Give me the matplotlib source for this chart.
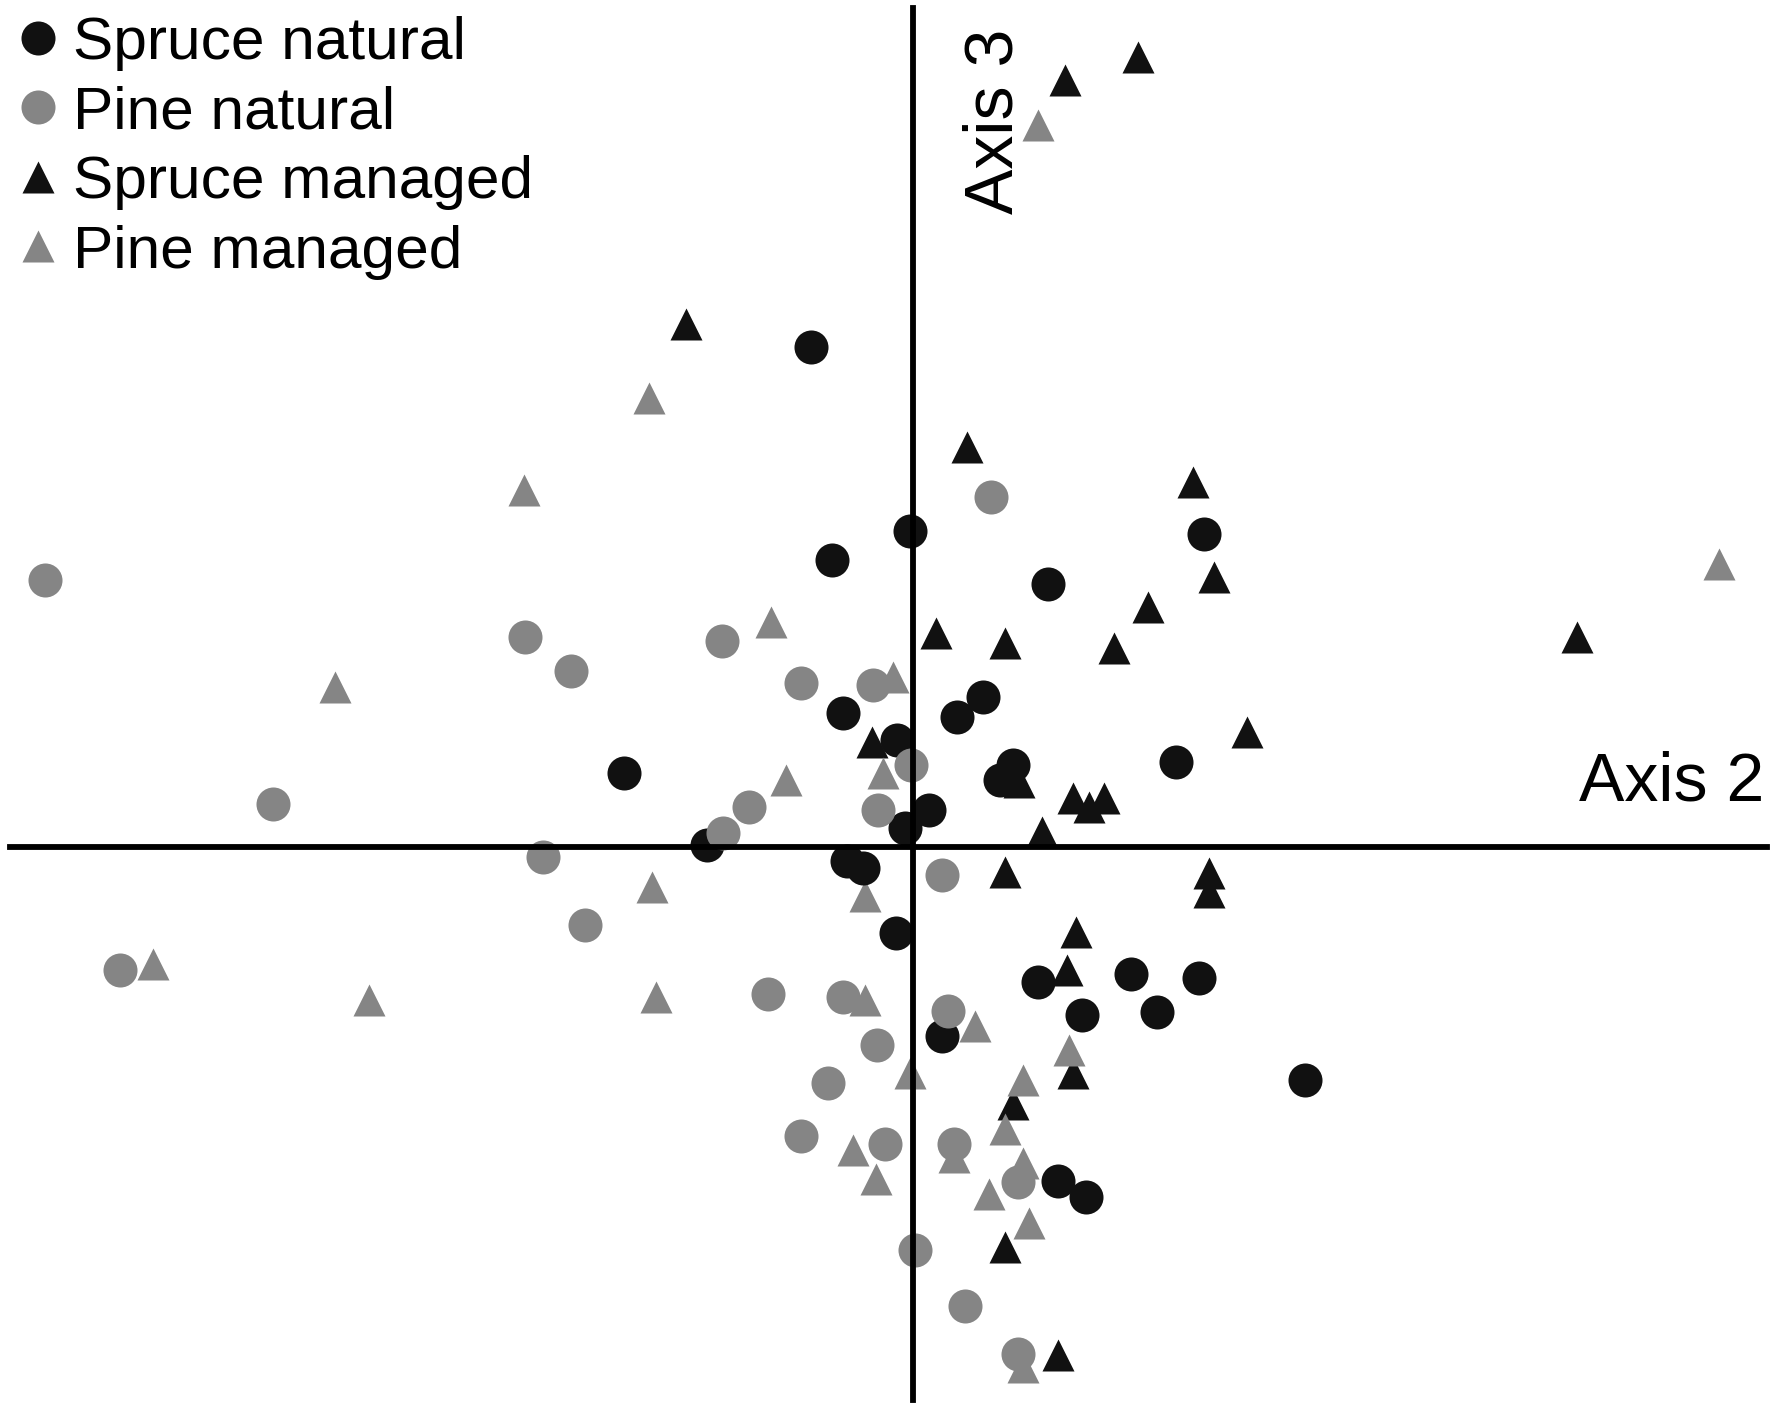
"""
Ordination plot (axis 2 vs axis 3) of natural and managed spruce / pine stands.
"""

import matplotlib
matplotlib.use("Agg")
import matplotlib.pyplot as plt

plt.rcParams["font.family"] = ["Liberation Sans", "DejaVu Sans"]

# ── Site scores (axis 2, axis 3) ─────────────────────────────────────────────
spruce_nat_x = [-0.89, -0.02, -0.71, 2.56, 1.19, -0.61, 0.39, 0.62, -0.14, -2.54,
                0.88, 0.77, 2.32, 0.14, -0.07, -1.81, -0.58, -0.44, -0.15, 1.10,
                1.92, 2.52, 1.49, 2.15, 0.26, 3.45, 1.28, 1.53]
spruce_nat_y = [4.40, 2.78, 2.52, 2.75, 2.31, 1.18, 1.14, 1.32, 0.94, 0.65,
                0.72, 0.59, 0.75, 0.32, 0.17, 0.02, -0.12, -0.19, -0.76, -1.19,
                -1.12, -1.15, -1.48, -1.45, -1.66, -2.05, -2.94, -3.08]

pine_nat_x = [-7.63, -3.41, -3.01, -1.68, -0.98, -0.35, 0.69, -5.63, -0.01, -1.44,
              -0.30, -1.67, -3.25, -2.88, -6.97, 0.26, -1.27, -0.61, 0.31, -0.31,
              -0.74, -0.98, -0.24, 0.36, 0.93, 0.02, 0.46, 0.93]
pine_nat_y = [2.35, 1.85, 1.55, 1.81, 1.44, 1.42, 3.08, 0.38, 0.72, 0.35,
              0.32, 0.12, -0.09, -0.69, -1.08, -0.25, -1.29, -1.32, -1.44, -1.74,
              -2.08, -2.54, -2.61, -2.61, -2.95, -3.55, -4.04, -4.46]

spruce_man_x = [1.34, 1.98, -1.99, 0.48, 2.47, 2.65, 2.07, 1.77, 0.81, 0.21,
                5.85, 2.94, -0.36, 0.94, 1.41, 1.55, 1.68, 1.14, 0.81, 2.61,
                2.61, 1.44, 1.36, 1.41, 0.88, 0.81, 1.28]
spruce_man_y = [6.75, 6.95, 4.60, 3.52, 3.21, 2.37, 2.11, 1.75, 1.79, 1.88,
                1.85, 1.01, 0.92, 0.57, 0.43, 0.35, 0.43, 0.13, -0.22, -0.23,
                -0.40, -0.75, -1.08, -1.99, -2.26, -3.52, -4.47]

pine_man_x = [1.10, -2.32, -3.42, -1.25, -0.17, -5.08, 7.10, -1.11, -0.26, -6.68,
              -2.29, -0.42, -4.78, -2.26, -0.42, 0.55, 1.38, -0.02, 0.97, 0.81,
              -0.52, -0.32, 0.36, 0.97, 0.67, 1.02, 0.97]
pine_man_y = [6.35, 3.95, 3.14, 1.98, 1.49, 1.41, 2.49, 0.59, 0.65, -1.03,
              -0.35, -0.43, -1.35, -1.32, -1.35, -1.58, -1.79, -1.99, -2.05, -2.48,
              -2.67, -2.92, -2.73, -2.78, -3.05, -3.31, -4.58]

BLACK = "#111111"
GREY = "#858585"

fig = plt.figure(figsize=(17.82, 14.05), dpi=100)
ax = fig.add_axes([0, 0, 1, 1])
ax.axis("off")
ax.set_xlim(-8.03, 7.65)
ax.set_ylim(-4.91, 7.45)

# draw order: managed triangles below, natural circles on top
ax.plot(spruce_nat_x, spruce_nat_y, "o", ls="none", ms=24.5, color=BLACK,
        mec="none", zorder=3, label="Spruce natural")
ax.plot(pine_nat_x, pine_nat_y, "o", ls="none", ms=24.5, color=GREY,
        mec="none", zorder=4, label="Pine natural")
ax.plot(spruce_man_x, spruce_man_y, "^", ls="none", ms=23.5, color=BLACK,
        mec="none", zorder=1, label="Spruce managed")
ax.plot(pine_man_x, pine_man_y, "^", ls="none", ms=23.5, color=GREY,
        mec="none", zorder=2, label="Pine managed")

# cross-shaped ordination axes
ax.axhline(0, xmin=9 / 1568, xmax=1555 / 1568, color="black", lw=4.2, zorder=5)
ax.axvline(0, ymin=4 / 1236, ymax=1229 / 1236, color="black", lw=4.2, zorder=5)

ax.text(7.49, 0.41, "Axis 2", fontsize=49, ha="right", va="baseline")
ax.text(1.00, 7.20, "Axis 3", fontsize=49, rotation=90, ha="right", va="top")

ax.legend(loc="upper left", bbox_to_anchor=(19.6 / 1782, 1 - 16 / 1405),
          frameon=False, fontsize=43.5, borderpad=0, borderaxespad=0,
          handlelength=0.6, handletextpad=0.28, labelspacing=0.24,
          numpoints=1)

fig.savefig("out.png", dpi=100, facecolor="white")
